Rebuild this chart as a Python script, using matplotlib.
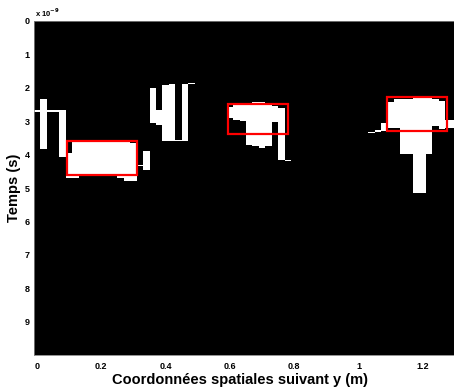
import numpy as np
import matplotlib
matplotlib.use("Agg")
import matplotlib.pyplot as plt
from matplotlib.patches import Rectangle

plt.rcParams['font.family'] = ['Liberation Sans', 'DejaVu Sans']
plt.rcParams['font.weight'] = 'bold'

# colonnes de l'image binaire (pas 0.02 m), debut / fin en ns
col_x = [0.00, 0.02, 0.04, 0.06, 0.08, 0.10, 0.12, 0.14, 0.16, 0.18, 0.20, 0.22,
         0.24, 0.26, 0.28, 0.30, 0.32, 0.34,
         0.36, 0.38, 0.40, 0.42, 0.44, 0.46, 0.48,
         0.60, 0.62, 0.64, 0.66, 0.68, 0.70, 0.72, 0.74, 0.76, 0.78,
         1.04, 1.06, 1.08, 1.10, 1.12, 1.14, 1.16, 1.18, 1.20, 1.22, 1.24, 1.26, 1.28, 1.30]
t_start = [2.67, 2.34, 2.67, 2.67, 2.66, 3.94, 3.60, 3.60, 3.60, 3.60, 3.60, 3.60,
           3.60, 3.60, 3.60, 3.65, 4.31, 3.89,
           2.01, 2.67, 1.91, 1.88, 3.55, 1.88, 1.85,
           2.57, 2.52, 2.52, 2.50, 2.43, 2.43, 2.50, 2.55, 2.60, 4.16,
           3.31, 3.26, 3.04, 2.42, 2.34, 2.34, 2.34, 2.28, 2.28, 2.30, 2.34, 2.40, 2.96, 2.96]
t_end = [2.72, 3.84, 2.72, 2.72, 4.08, 4.69, 4.69, 4.63, 4.63, 4.63, 4.63, 4.63,
         4.63, 4.69, 4.78, 4.78, 4.35, 4.46,
         3.05, 3.10, 3.58, 3.58, 3.58, 3.58, 1.88,
         2.90, 2.96, 2.99, 3.70, 3.73, 3.80, 3.73, 3.02, 4.16, 4.19,
         3.34, 3.31, 3.28, 3.21, 3.21, 3.99, 3.99, 5.14, 5.14, 3.99, 3.14, 3.24, 3.21, 3.21]

# cadres rouges (m, ns)
box_x0 = [0.092, 0.593, 1.089]
box_x1 = [0.311, 0.780, 1.274]
box_t0 = [3.59, 2.49, 2.28]
box_t1 = [4.60, 3.38, 3.28]

x_ticks = [0, 0.2, 0.4, 0.6, 0.8, 1.0, 1.2]
x_ticklabels = ['0', '0.2', '0.4', '0.6', '0.8', '1', '1.2']
y_ticks = [0, 1, 2, 3, 4, 5, 6, 7, 8, 9]

fig = plt.figure(figsize=(4.54, 3.89), dpi=100)
ax = fig.add_axes([34 / 454, 34 / 389, 420 / 454, 334 / 389])
ax.set_facecolor('black')

heights = np.array(t_end) - np.array(t_start)
ax.bar(col_x, heights, bottom=t_start, width=0.02, color='white', linewidth=0, align='center')

for x0, x1, t0, t1 in zip(box_x0, box_x1, box_t0, box_t1):
    ax.add_patch(Rectangle((x0, t0), x1 - x0, t1 - t0, fill=False, edgecolor='#ff0000', linewidth=1.6))

ax.set_xlim(-0.0093, 1.297)
ax.set_ylim(10, 0)
ax.set_xticks(x_ticks)
ax.set_xticklabels(x_ticklabels)
ax.set_yticks(y_ticks)
ax.tick_params(axis='both', length=0, labelsize=6.5)
ax.tick_params(axis='x', pad=5)
ax.tick_params(axis='y', pad=3)
for s in ax.spines.values():
    s.set_color('#808080')
    s.set_linewidth(0.6)

ax.set_xlabel('Coordonnées spatiales suivant y (m)', fontsize=10.5, fontweight='bold')
ax.xaxis.set_label_coords(0.49, -0.054)
ax.set_ylabel('Temps (s)', fontsize=10.5, fontweight='bold', labelpad=3)
fig.text(35 / 454, 1 - 17 / 389, r'x 10$^{\mathbf{-9}}$', fontsize=5.5, fontweight='bold', va='baseline', ha='left')

fig.savefig('out.png', dpi=100)
